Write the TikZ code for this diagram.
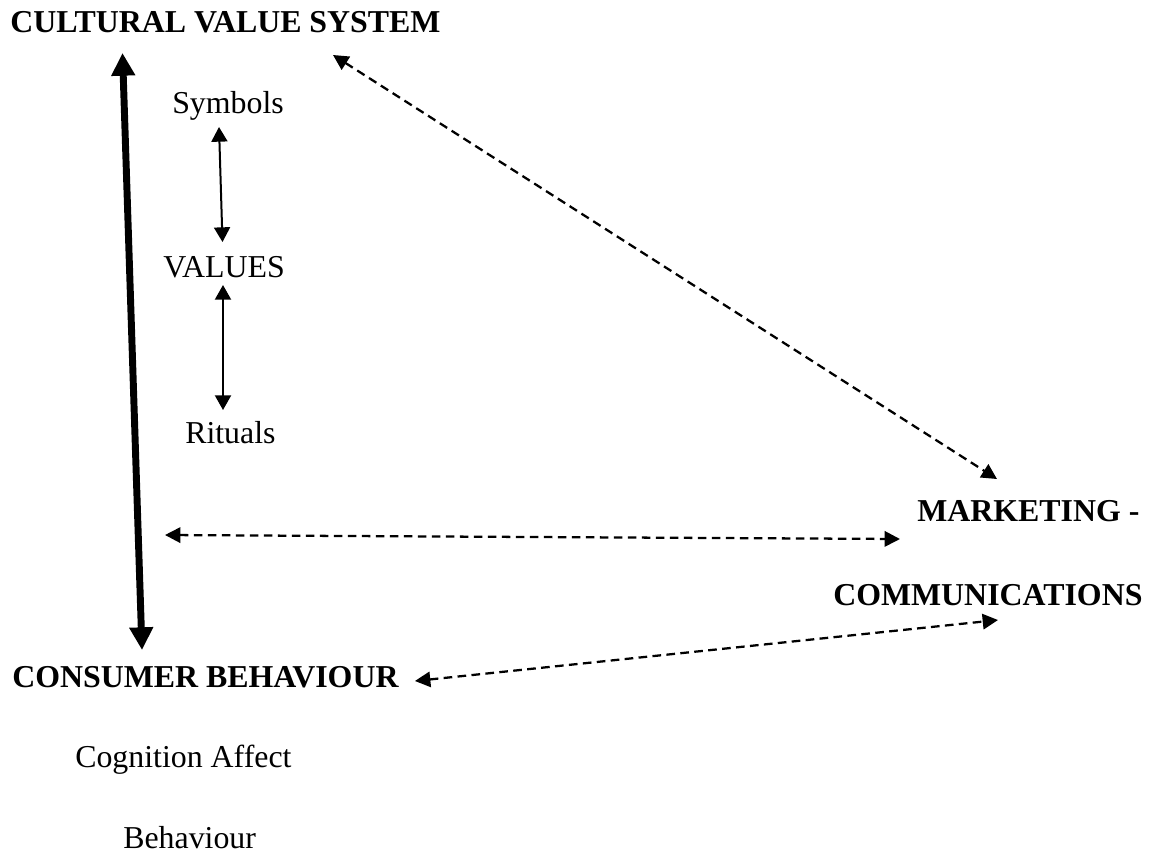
\documentclass[tikz,border=0pt]{standalone}
\usepackage{fontspec}
\setmainfont{Liberation Serif}
\usetikzlibrary{arrows.meta}
\begin{document}
\begin{tikzpicture}[x=0.75pt,y=-0.75pt,
  lbl/.style={inner sep=0pt,anchor=base west,font=\fontsize{23.9}{28}\selectfont},
  head/.style={lbl,font=\fontsize{23.9}{28}\selectfont\bfseries},
  bigarrow/.style={line width=5.2pt,{Triangle[length=17pt,width=17pt]}-{Triangle[length=17pt,width=17pt]}},
  linkarrow/.style={line width=1.5pt,{Triangle[length=11pt,width=12pt]}-{Triangle[length=11pt,width=12pt]}},
  dasharrow/.style={line width=1.7pt,dash pattern=on 6.5pt off 4pt,
    {Triangle[length=11.5pt,width=11.5pt]}-{Triangle[length=11.5pt,width=11.5pt]}}]
\useasboundingbox (0,0) rectangle (1157,854);

% headings
\node[head] (cvs) at (10,32) {CULTURAL VALUE SYSTEM};
\node[head] (mkt) at (917,521) {MARKETING -};
\node[head] (com) at (833,605) {COMMUNICATIONS};
\node[head] (cb) at (12,687) {CONSUMER BEHAVIOUR};

% elements of culture
\node[lbl] (sym) at (172,113) {Symbols};
\node[lbl] (val) at (163,277) {VALUES};
\node[lbl] (rit) at (185,443) {Rituals};

% elements of behaviour
\node[lbl] (cog) at (75,767) {Cognition Affect};
\node[lbl] (beh) at (123,848) {Behaviour};

% arrow end points
\coordinate (cvsDown) at (122.5,53);
\coordinate (cbUp) at (142,650);
\coordinate (symBot) at (219,127);
\coordinate (valTop) at (222.5,242);
\coordinate (valBot) at (223,285);
\coordinate (ritTop) at (223,410);
\coordinate (cvsRight) at (333,55);
\coordinate (mktTop) at (997,479);
\coordinate (midLeft) at (165,535);
\coordinate (mktLeft) at (900,539);
\coordinate (cbRight) at (415,681);
\coordinate (comLeft) at (998,620);

% connectors
\draw[bigarrow] (cvsDown) -- (cbUp);
\draw[linkarrow] (symBot) -- (valTop);
\draw[linkarrow] (valBot) -- (ritTop);
\draw[dasharrow] (cvsRight) -- (mktTop);
\draw[dasharrow] (midLeft) -- (mktLeft);
\draw[dasharrow] (cbRight) -- (comLeft);
\end{tikzpicture}
\end{document}
